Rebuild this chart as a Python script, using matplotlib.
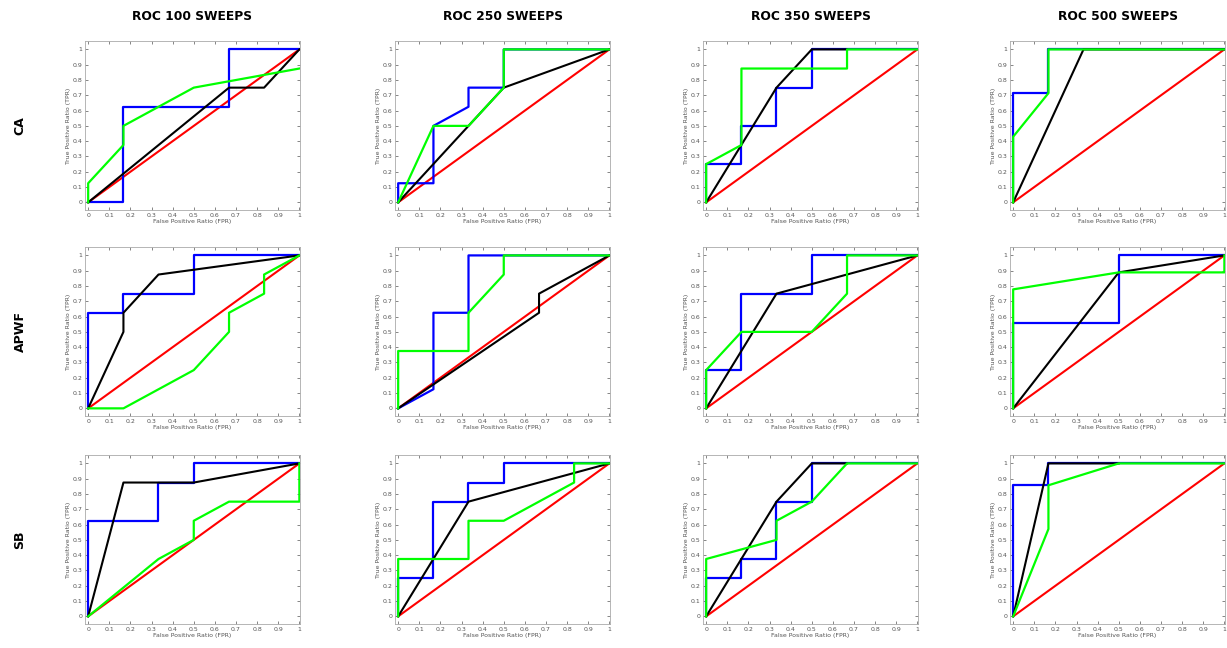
import numpy as np
import matplotlib.pyplot as plt

sweeps = ["100", "250", "350", "500"]
methods = ["CA", "APWF", "SB"]

# ROC curves: (fpr list, tpr list) per panel
blue_fpr = {
    ("CA", "100"): [0, 0.167, 0.167, 0.667, 0.667, 1],
    ("CA", "250"): [0, 0, 0.167, 0.167, 0.333, 0.333, 0.5, 0.5, 1],
    ("CA", "350"): [0, 0, 0.167, 0.167, 0.333, 0.333, 0.5, 0.5, 1],
    ("CA", "500"): [0, 0, 0.167, 0.167, 1],
    ("APWF", "100"): [0, 0, 0.167, 0.167, 0.5, 0.5, 1],
    ("APWF", "250"): [0, 0.167, 0.167, 0.333, 0.333, 1],
    ("APWF", "350"): [0, 0, 0.167, 0.167, 0.5, 0.5, 1],
    ("APWF", "500"): [0, 0, 0.5, 0.5, 1],
    ("SB", "100"): [0, 0, 0.333, 0.333, 0.5, 0.5, 1],
    ("SB", "250"): [0, 0, 0.167, 0.167, 0.333, 0.333, 0.5, 0.5, 1],
    ("SB", "350"): [0, 0, 0.167, 0.167, 0.333, 0.333, 0.5, 0.5, 1],
    ("SB", "500"): [0, 0, 0.167, 0.167, 1],
}
blue_tpr = {
    ("CA", "100"): [0, 0, 0.625, 0.625, 1, 1],
    ("CA", "250"): [0, 0.125, 0.125, 0.5, 0.625, 0.75, 0.75, 1, 1],
    ("CA", "350"): [0, 0.25, 0.25, 0.5, 0.5, 0.75, 0.75, 1, 1],
    ("CA", "500"): [0, 0.714, 0.714, 1, 1],
    ("APWF", "100"): [0, 0.625, 0.625, 0.75, 0.75, 1, 1],
    ("APWF", "250"): [0, 0.125, 0.625, 0.625, 1, 1],
    ("APWF", "350"): [0, 0.25, 0.25, 0.75, 0.75, 1, 1],
    ("APWF", "500"): [0, 0.556, 0.556, 1, 1],
    ("SB", "100"): [0, 0.625, 0.625, 0.875, 0.875, 1, 1],
    ("SB", "250"): [0, 0.25, 0.25, 0.75, 0.75, 0.875, 0.875, 1, 1],
    ("SB", "350"): [0, 0.25, 0.25, 0.375, 0.375, 0.75, 0.75, 1, 1],
    ("SB", "500"): [0, 0.857, 0.857, 1, 1],
}
black_fpr = {
    ("CA", "100"): [0, 0.667, 0.833, 1],
    ("CA", "250"): [0, 0.333, 0.5, 1],
    ("CA", "350"): [0, 0.333, 0.5, 0.667],
    ("CA", "500"): [0, 0.333, 1],
    ("APWF", "100"): [0, 0.167, 0.167, 0.333, 1],
    ("APWF", "250"): [0, 0.667, 0.667, 1],
    ("APWF", "350"): [0, 0.333, 1],
    ("APWF", "500"): [0, 0.5, 1],
    ("SB", "100"): [0, 0.167, 0.5, 1],
    ("SB", "250"): [0, 0.333, 1],
    ("SB", "350"): [0, 0.333, 0.5, 0.667],
    ("SB", "500"): [0, 0.167, 0.5],
}
black_tpr = {
    ("CA", "100"): [0, 0.75, 0.75, 1],
    ("CA", "250"): [0, 0.5, 0.75, 1],
    ("CA", "350"): [0, 0.75, 1, 1],
    ("CA", "500"): [0, 1, 1],
    ("APWF", "100"): [0, 0.5, 0.625, 0.875, 1],
    ("APWF", "250"): [0, 0.625, 0.75, 1],
    ("APWF", "350"): [0, 0.75, 1],
    ("APWF", "500"): [0, 0.889, 1],
    ("SB", "100"): [0, 0.875, 0.875, 1],
    ("SB", "250"): [0, 0.75, 1],
    ("SB", "350"): [0, 0.75, 1, 1],
    ("SB", "500"): [0, 1, 1],
}
green_fpr = {
    ("CA", "100"): [0, 0, 0.167, 0.167, 0.5, 1],
    ("CA", "250"): [0, 0.167, 0.333, 0.5, 0.5, 1],
    ("CA", "350"): [0, 0, 0.167, 0.167, 0.667, 0.667, 1],
    ("CA", "500"): [0, 0, 0.167, 0.167, 1],
    ("APWF", "100"): [0, 0.167, 0.5, 0.667, 0.667, 0.833, 0.833, 1],
    ("APWF", "250"): [0, 0, 0.333, 0.333, 0.5, 0.5, 1],
    ("APWF", "350"): [0, 0, 0.167, 0.5, 0.667, 0.667, 1],
    ("APWF", "500"): [0, 0, 0.5, 1, 1],
    ("SB", "100"): [0, 0.333, 0.5, 0.5, 0.667, 1, 1],
    ("SB", "250"): [0, 0, 0.333, 0.333, 0.5, 0.833, 0.833, 1],
    ("SB", "350"): [0, 0, 0.333, 0.333, 0.5, 0.667, 1],
    ("SB", "500"): [0, 0.167, 0.167, 0.5, 1],
}
green_tpr = {
    ("CA", "100"): [0, 0.125, 0.375, 0.5, 0.75, 0.875],
    ("CA", "250"): [0, 0.5, 0.5, 0.75, 1, 1],
    ("CA", "350"): [0, 0.25, 0.375, 0.875, 0.875, 1, 1],
    ("CA", "500"): [0, 0.429, 0.714, 1, 1],
    ("APWF", "100"): [0, 0, 0.25, 0.5, 0.625, 0.75, 0.875, 1],
    ("APWF", "250"): [0, 0.375, 0.375, 0.625, 0.875, 1, 1],
    ("APWF", "350"): [0, 0.25, 0.5, 0.5, 0.75, 1, 1],
    ("APWF", "500"): [0, 0.778, 0.889, 0.889, 1],
    ("SB", "100"): [0, 0.375, 0.5, 0.625, 0.75, 0.75, 1],
    ("SB", "250"): [0, 0.375, 0.375, 0.625, 0.625, 0.875, 1, 1],
    ("SB", "350"): [0, 0.375, 0.5, 0.625, 0.75, 1, 1],
    ("SB", "500"): [0, 0.571, 0.857, 1, 1],
}
chance = [0, 1]

fig = plt.figure(figsize=(12.27, 6.48), dpi=100)
W, H = 1227.0, 648.0
col_left = [85, 395, 703, 1010]
row_top = [41, 247, 455]
ax_w, ax_h = 215, 169
grey = "#555555"
ticks = np.round(np.arange(0, 1.01, 0.1), 1)
tick_labels = ["0"] + [f"{t:g}" for t in ticks[1:]]

for r, m in enumerate(methods):
    for c, s in enumerate(sweeps):
        ax = fig.add_axes([col_left[c] / W, 1 - (row_top[r] + ax_h) / H, ax_w / W, ax_h / H])
        key = (m, s)
        ax.plot(chance, chance, color="#ff0000", lw=1.5)
        ax.plot(blue_fpr[key], blue_tpr[key], color="#0000ff", lw=1.6)
        ax.plot(black_fpr[key], black_tpr[key], color="black", lw=1.5)
        ax.plot(green_fpr[key], green_tpr[key], color="#00ff00", lw=1.6)
        ax.set_xlim(-0.015, 1.003)
        ax.set_ylim(-0.05, 1.055)
        ax.set_xticks(ticks)
        ax.set_yticks(ticks)
        ax.set_xticklabels(tick_labels)
        ax.set_yticklabels(tick_labels)
        ax.tick_params(direction="in", length=2, width=0.5, labelsize=4.5, colors=grey,
                       top=True, right=True, pad=2)
        for sp in ax.spines.values():
            sp.set_color("#aaaaaa")
            sp.set_linewidth(0.6)
        ax.set_xlabel("False Positive Ratio (FPR)", fontsize=4.5, color=grey, labelpad=1)
        ax.set_ylabel("True Positive Ratio (TPR)", fontsize=4.5, color=grey, labelpad=1)
        if r == 0:
            fig.text((col_left[c] + ax_w / 2) / W, 1 - 17 / H, f"ROC {s} SWEEPS",
                     ha="center", va="center", fontsize=8.8, fontweight="bold")
    fig.text(20 / W, 1 - (row_top[r] + ax_h / 2) / H, m, rotation=90,
             ha="center", va="center", fontsize=9, fontweight="bold")

fig.savefig("out.png", dpi=100)
